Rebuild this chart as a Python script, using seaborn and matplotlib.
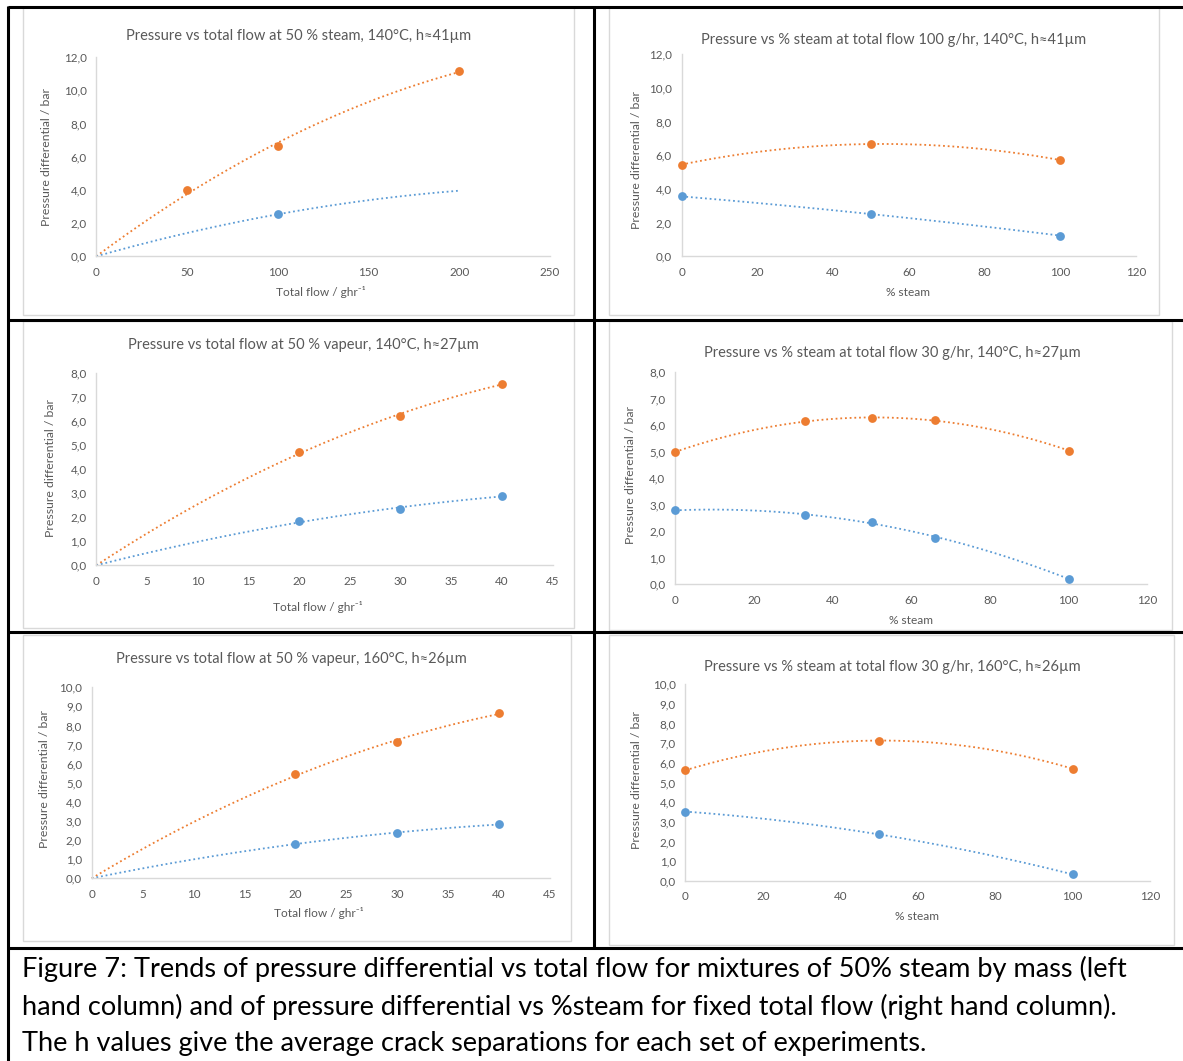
import numpy as np
import pandas as pd
import matplotlib
matplotlib.use("Agg")
import matplotlib.pyplot as plt
from matplotlib.ticker import FuncFormatter, MultipleLocator
from matplotlib.lines import Line2D
from matplotlib.patches import Rectangle
import seaborn as sns

# ---------------- data ----------------
# Row 1: h ~ 41 um, 140 C
tl_flow = [50, 100, 200]
tl_orange = [4.0, 6.65, 11.13]
tl_blue_flow = [100, 200]
tl_blue = [2.53, 3.95]
tl_blue_marker = [True, False]

tr_steam = [0, 50, 100]
tr_orange = [5.45, 6.67, 5.72]
tr_blue = [3.56, 2.51, 1.23]

# Row 2: h ~ 27 um, 140 C
ml_flow = [20, 30, 40]
ml_orange = [4.72, 6.22, 7.57]
ml_blue = [1.83, 2.36, 2.89]

mr_steam = [0, 33, 50, 66, 100]
mr_orange = [4.99, 6.14, 6.26, 6.19, 5.04]
mr_blue = [2.79, 2.61, 2.35, 1.76, 0.21]

# Row 3: h ~ 26 um, 160 C
bl_flow = [20, 30, 40]
bl_orange = [5.44, 7.14, 8.64]
bl_blue = [1.82, 2.36, 2.83]

br_steam = [0, 50, 100]
br_orange = [5.63, 7.14, 5.71]
br_blue = [3.53, 2.37, 0.34]

titles = [
    "Pressure vs total flow at 50 % steam, 140°C, h≈41µm",
    "Pressure vs % steam at total flow 100 g/hr, 140°C, h≈41µm",
    "Pressure vs total flow at 50 % vapeur, 140°C, h≈27µm",
    "Pressure vs % steam at total flow 30 g/hr, 140°C, h≈27µm",
    "Pressure vs total flow at 50 % vapeur, 160°C, h≈26µm",
    "Pressure vs % steam at total flow 30 g/hr, 160°C, h≈26µm",
]
ylabel = "Pressure differential / bar"
xlabel_flow = "Total flow / ghr⁻¹"
xlabel_steam = "% steam"
caption_lines = [
    "Figure 7: Trends of pressure differential vs total flow for mixtures of 50% steam by mass (left",
    "hand column) and of pressure differential vs %steam for fixed total flow (right hand column).",
    "The h values give the average crack separations for each set of experiments.",
]

# ---------------- style ----------------
sns.set_theme(style="white")
FONT = ["Lato", "DejaVu Sans"]
plt.rcParams["font.family"] = FONT
ORANGE = "#ED7D31"
BLUE = "#5B9BD5"
GREY_TXT = "#595959"
GREY_LINE = "#D9D9D9"

W, H = 1183, 1061
fig = plt.figure(figsize=(W / 100, H / 100), dpi=100)


def fx(px):
    return px / W


def fy(py):
    return 1 - py / H


def quad_fit(x, y, through_origin):
    x = np.asarray(x, float)
    y = np.asarray(y, float)
    if through_origin:
        A = np.column_stack([x, x ** 2])
        a, b = np.linalg.lstsq(A, y, rcond=None)[0]
        return lambda t: a * t + b * t ** 2
    c = np.polyfit(x, y, 2)
    return np.poly1d(c)


def make_axes(x0, x1, y0, y1, xmax, xstep, ymax, ystep):
    ax = fig.add_axes([fx(x0), fy(y0), fx(x1 - x0), (y0 - y1) / H])
    ax.set_zorder(2)
    ax.set_xlim(0, xmax)
    ax.set_ylim(0, ymax)
    ax.xaxis.set_major_locator(MultipleLocator(xstep))
    ax.yaxis.set_major_locator(MultipleLocator(ystep))
    ax.yaxis.set_major_formatter(FuncFormatter(lambda v, p: f"{v:.1f}".replace(".", ",")))
    ax.xaxis.set_major_formatter(FuncFormatter(lambda v, p: f"{v:.0f}"))
    for s in ["top", "right"]:
        ax.spines[s].set_visible(False)
    for s in ["left", "bottom"]:
        ax.spines[s].set_color(GREY_LINE)
        ax.spines[s].set_linewidth(1.0)
    ax.tick_params(axis="both", length=0, labelsize=8.4, colors=GREY_TXT)
    ax.tick_params(axis="y", pad=7)
    ax.tick_params(axis="x", pad=7.5)
    ax.set_facecolor("none")
    ax.grid(False)
    return ax


def draw_series(ax, x, y, color, through_origin, shown=None):
    f = quad_fit(x, y, through_origin)
    start = 0 if through_origin else min(x)
    t = np.linspace(start, max(x), 200)
    trend = pd.DataFrame({"x": t, "y": f(t)})
    sns.lineplot(data=trend, x="x", y="y", ax=ax, color=color, lw=1.3,
                 linestyle=(0, (1, 1.6)), clip_on=False)
    pts = pd.DataFrame({"x": x, "y": y})
    if shown is not None:
        pts = pts[np.asarray(shown)]
    sns.scatterplot(data=pts, x="x", y="y", ax=ax, color=color, s=40,
                    edgecolor=color, linewidth=0, zorder=5, clip_on=False)
    ax.set_xlabel("")
    ax.set_ylabel("")


panels = [
    dict(frame=(23, 7, 574, 315), axes=(96.3, 550, 256.3, 57), lim=(250, 50, 12, 2),
         title=(0, 299, 36), xl=(xlabel_flow, 321, 292), yl=(47, 157),
         series=[(tl_flow, tl_orange, ORANGE, None), (tl_blue_flow, tl_blue, BLUE, tl_blue_marker)],
         origin=True),
    dict(frame=(609, 7, 1159, 315), axes=(681.6, 1135.7, 256.3, 54.3), lim=(120, 20, 12, 2),
         title=(1, 894, 40), xl=(xlabel_steam, 908, 292), yl=(636, 160),
         series=[(tr_steam, tr_orange, ORANGE, None), (tr_steam, tr_blue, BLUE, None)],
         origin=False),
    dict(frame=(23, 321, 574, 628), axes=(96.3, 552.5, 565.3, 373.3), lim=(45, 5, 8, 1),
         title=(2, 303, 345), xl=(xlabel_flow, 318, 607), yl=(51, 468),
         series=[(ml_flow, ml_orange, ORANGE, None), (ml_flow, ml_blue, BLUE, None)],
         origin=True),
    dict(frame=(609, 321, 1172, 630), axes=(675.2, 1147.3, 584.3, 372), lim=(120, 20, 8, 1),
         title=(3, 892, 353), xl=(xlabel_steam, 911, 620), yl=(631, 475),
         series=[(mr_steam, mr_orange, ORANGE, None), (mr_steam, mr_blue, BLUE, None)],
         origin=False),
    dict(frame=(23, 635, 571, 941), axes=(91.8, 549.5, 878.3, 687.3), lim=(45, 5, 10, 1),
         title=(4, 291, 659), xl=(xlabel_flow, 319, 913), yl=(45, 779),
         series=[(bl_flow, bl_orange, ORANGE, None), (bl_flow, bl_blue, BLUE, None)],
         origin=True),
    dict(frame=(609, 635, 1174, 945), axes=(685.4, 1150, 881, 684.3), lim=(120, 20, 10, 1),
         title=(5, 892, 667), xl=(xlabel_steam, 917, 916), yl=(637, 780),
         series=[(br_steam, br_orange, ORANGE, None), (br_steam, br_blue, BLUE, None)],
         origin=False),
]

for p in panels:
    l, t, r, b = p["frame"]
    fig.patches.append(Rectangle((fx(l), fy(b)), fx(r - l), (b - t) / H,
                                 transform=fig.transFigure, fill=False,
                                 edgecolor=GREY_LINE, lw=1.0, zorder=1))
    x0, x1, y0, y1 = p["axes"]
    xmax, xstep, ymax, ystep = p["lim"]
    ax = make_axes(x0, x1, y0, y1, xmax, xstep, ymax, ystep)
    for x, y, c, shown in p["series"]:
        draw_series(ax, x, y, c, p["origin"], shown)
    ti, tx, ty = p["title"]
    fig.text(fx(tx), fy(ty), titles[ti], ha="center", va="center", fontsize=10.5,
             color=GREY_TXT, family=FONT)
    lab, lx, ly = p["xl"]
    fig.text(fx(lx), fy(ly), lab, ha="center", va="center", fontsize=8.6,
             color=GREY_TXT, family=FONT)
    yx, yy = p["yl"]
    fig.text(fx(yx), fy(yy), ylabel, ha="center", va="center", rotation=90,
             fontsize=8.8, color=GREY_TXT, family=FONT)

# table rules
LW = 2.2
table = [
    ((8, 1183), (7, 7)),
    ((8, 1183), (320, 320)),
    ((8, 1183), (632, 632)),
    ((8, 1183), (948, 948)),
    ((8, 8), (6, 1061)),
    ((594, 594), (6, 948)),
]
for xs, ys in table:
    fig.add_artist(Line2D([fx(xs[0]), fx(xs[1])], [fy(ys[0]), fy(ys[1])],
                          transform=fig.transFigure, color="black", lw=LW,
                          solid_capstyle="butt", zorder=3))

# caption
for i, line in enumerate(caption_lines):
    fig.text(fx(22), fy(969 + 37.5 * i), line, ha="left", va="center",
             fontsize=19.5, color="black", family=FONT)

fig.savefig("out.png", dpi=100, facecolor="white")
